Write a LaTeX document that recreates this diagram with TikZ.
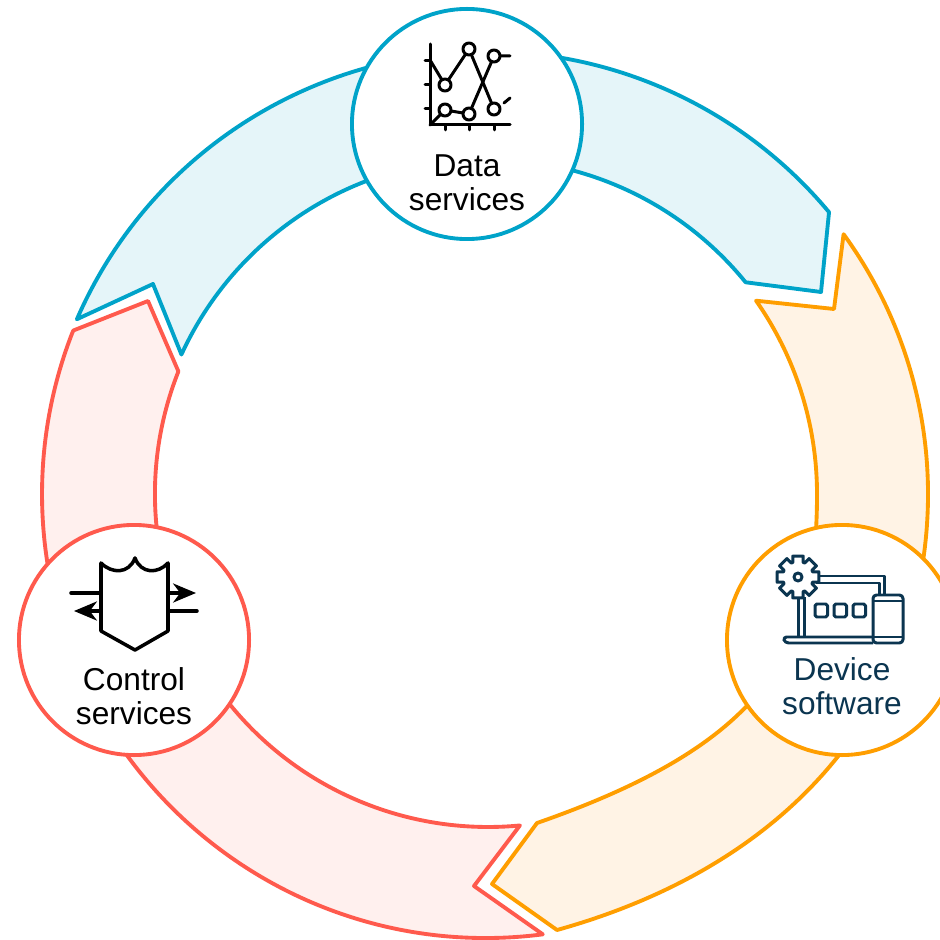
\documentclass[tikz,border=0pt]{standalone}
\usepackage{fontspec}
\setmainfont{Liberation Sans}
\usepackage{tikz}
\usetikzlibrary{arrows.meta}
\definecolor{dataline}{HTML}{00A3C9}
\definecolor{datafill}{HTML}{E5F5F9}
\definecolor{deviceline}{HTML}{FF9E00}
\definecolor{devicefill}{HTML}{FFF3E5}
\definecolor{controlline}{HTML}{FF5A4D}
\definecolor{controlfill}{HTML}{FFF0EE}
\definecolor{deviceink}{HTML}{0B3550}
\tikzset{
    band/.style={line width=1.1pt,line join=round},
    hub/.style={circle,fill=white,line width=1.1pt,minimum size=2.3cm,inner sep=0pt},
    caption/.style={align=center,inner sep=0pt,font=\fontsize{9}{9.7}\selectfont},
    pixels/.style={shift={(0,939)},yscale=-1},
    glyph/.style={line width=1pt,line join=round,line cap=round},
    chartglyph/.style={line width=0.85pt,line join=round,line cap=round},
    tinyglyph/.style={line width=0.85pt,line join=round,draw=deviceink},
    headtip/.style={-{Stealth[length=6.5pt,width=5.4pt,inset=2pt]}}
}
\begin{document}
\begin{tikzpicture}[x=0.01cm,y=0.01cm]
        \useasboundingbox (0,0) rectangle (940,939);
        \coordinate (c) at (486,445);
        \coordinate (d) at (486,441);
        \coordinate (e) at (488,445);
        % arrows of the ring
        \draw[band,draw=dataline,fill=datafill]([shift={(d)}]156.4:446.5) arc[start angle=156.4,end angle=39.8,radius=446.5]--(821,647)--([shift={(c)}]39.2:335) arc[start angle=39.2,end angle=155.4,radius=335]--(153,655)--cycle;
        \draw[band,draw=deviceline,fill=devicefill]([shift={(c)}]36:442) arc[start angle=36,end angle=0,radius=442] .. controls (928,259) and (815,81) .. (557,9)--(492,55)--(537,116) .. controls (767,196) and (817,289) .. (817,445) arc[start angle=0,end angle=35,radius=337]--(834,630)--cycle;
        \draw[band,draw=controlline,fill=controlfill]([shift={(c)}]-82.65:444) arc[start angle=-82.65,end angle=-201.6,radius=444]--(148,638)--([shift={(e)}]158.4:333) arc[start angle=158.4,end angle=275.5,radius=333]--(474,53)--cycle;
        % circles
        \node[hub,draw=dataline] (data) at (467,815) {};
        \node[hub,draw=deviceline] (device) at (842,299) {};
        \node[hub,draw=controlline] (control) at (134,299) {};
        \node[caption] (datatext) at (467,756) {Data\\services};
        \node[caption,text=deviceink] (devicetext) at (842,253) {Device\\software};
        \node[caption] (controltext) at (134,243) {Control\\services};
        % chart
        \begin{scope}[pixels]
            \draw[chartglyph](430,44)--(430,125)--(510,125);
            \foreach \y in {61,85,109} \draw[chartglyph](425,\y)--(430,\y);
            \foreach \x in {445,469,494} \draw[chartglyph](\x,125)--(\x,130);
            \draw[chartglyph](430,60)--(445,85)--(469,49)--(494,109);
            \draw[chartglyph](430,125)--(445,110)--(469,114)--(494,56)--(510,56);
            \draw[chartglyph](504,103)--(510,98);
            \foreach \x/\y in {445/85,469/49,494/56,445/110,469/114,494/109}
                \draw[chartglyph,fill=white](\x,\y) circle (6);
        \end{scope}
        % laptop and gear
        \begin{scope}[pixels]
            \draw[tinyglyph](798,597)--(798,637);
            \draw[tinyglyph](804,597)--(804,637);
            \draw[tinyglyph](820,576)--(884,576)--(884,594);
            \draw[tinyglyph](816,583)--(879,583)--(879,594);
            \draw[tinyglyph,rounded corners=1pt](873,637)--(783,637)--(785,643)--(873,643);
            \foreach \x in {815,834,853} \draw[tinyglyph,rounded corners=0.5pt](\x,604) rectangle (\x+12.5,617);
            \draw[tinyglyph,rounded corners=1pt](873,595) rectangle (903,643);
            \draw[tinyglyph](873,601)--(903,601);
            \draw[tinyglyph](873,637)--(903,637);
            \draw[tinyglyph,fill=white]([shift={(798,577)}]-19:15.5)
                \foreach \a in {0,45,...,315} {
                    --([shift={(798,577)}]\a-19:15.5)--([shift={(798,577)}]\a-14:21.5)--([shift={(798,577)}]\a+14:21.5)--([shift={(798,577)}]\a+19:15.5)
                }--cycle;
            \draw[tinyglyph](798,577) circle (4);
        \end{scope}
        % shield
        \begin{scope}[pixels]
            \draw[glyph](101,563) .. controls (112,574) and (129,574) .. (135,558) .. controls (141,574) and (158,574) .. (168,563)--(168,631)--(135,650)--(101,631)--cycle;
            \draw[glyph](71,593)--(101,593);
            \draw[glyph,headtip](101,611)--(74,611);
            \draw[glyph,headtip](168,593)--(196,593);
            \draw[glyph](168,611)--(197,611);
        \end{scope}
    \end{tikzpicture}
\end{document}
